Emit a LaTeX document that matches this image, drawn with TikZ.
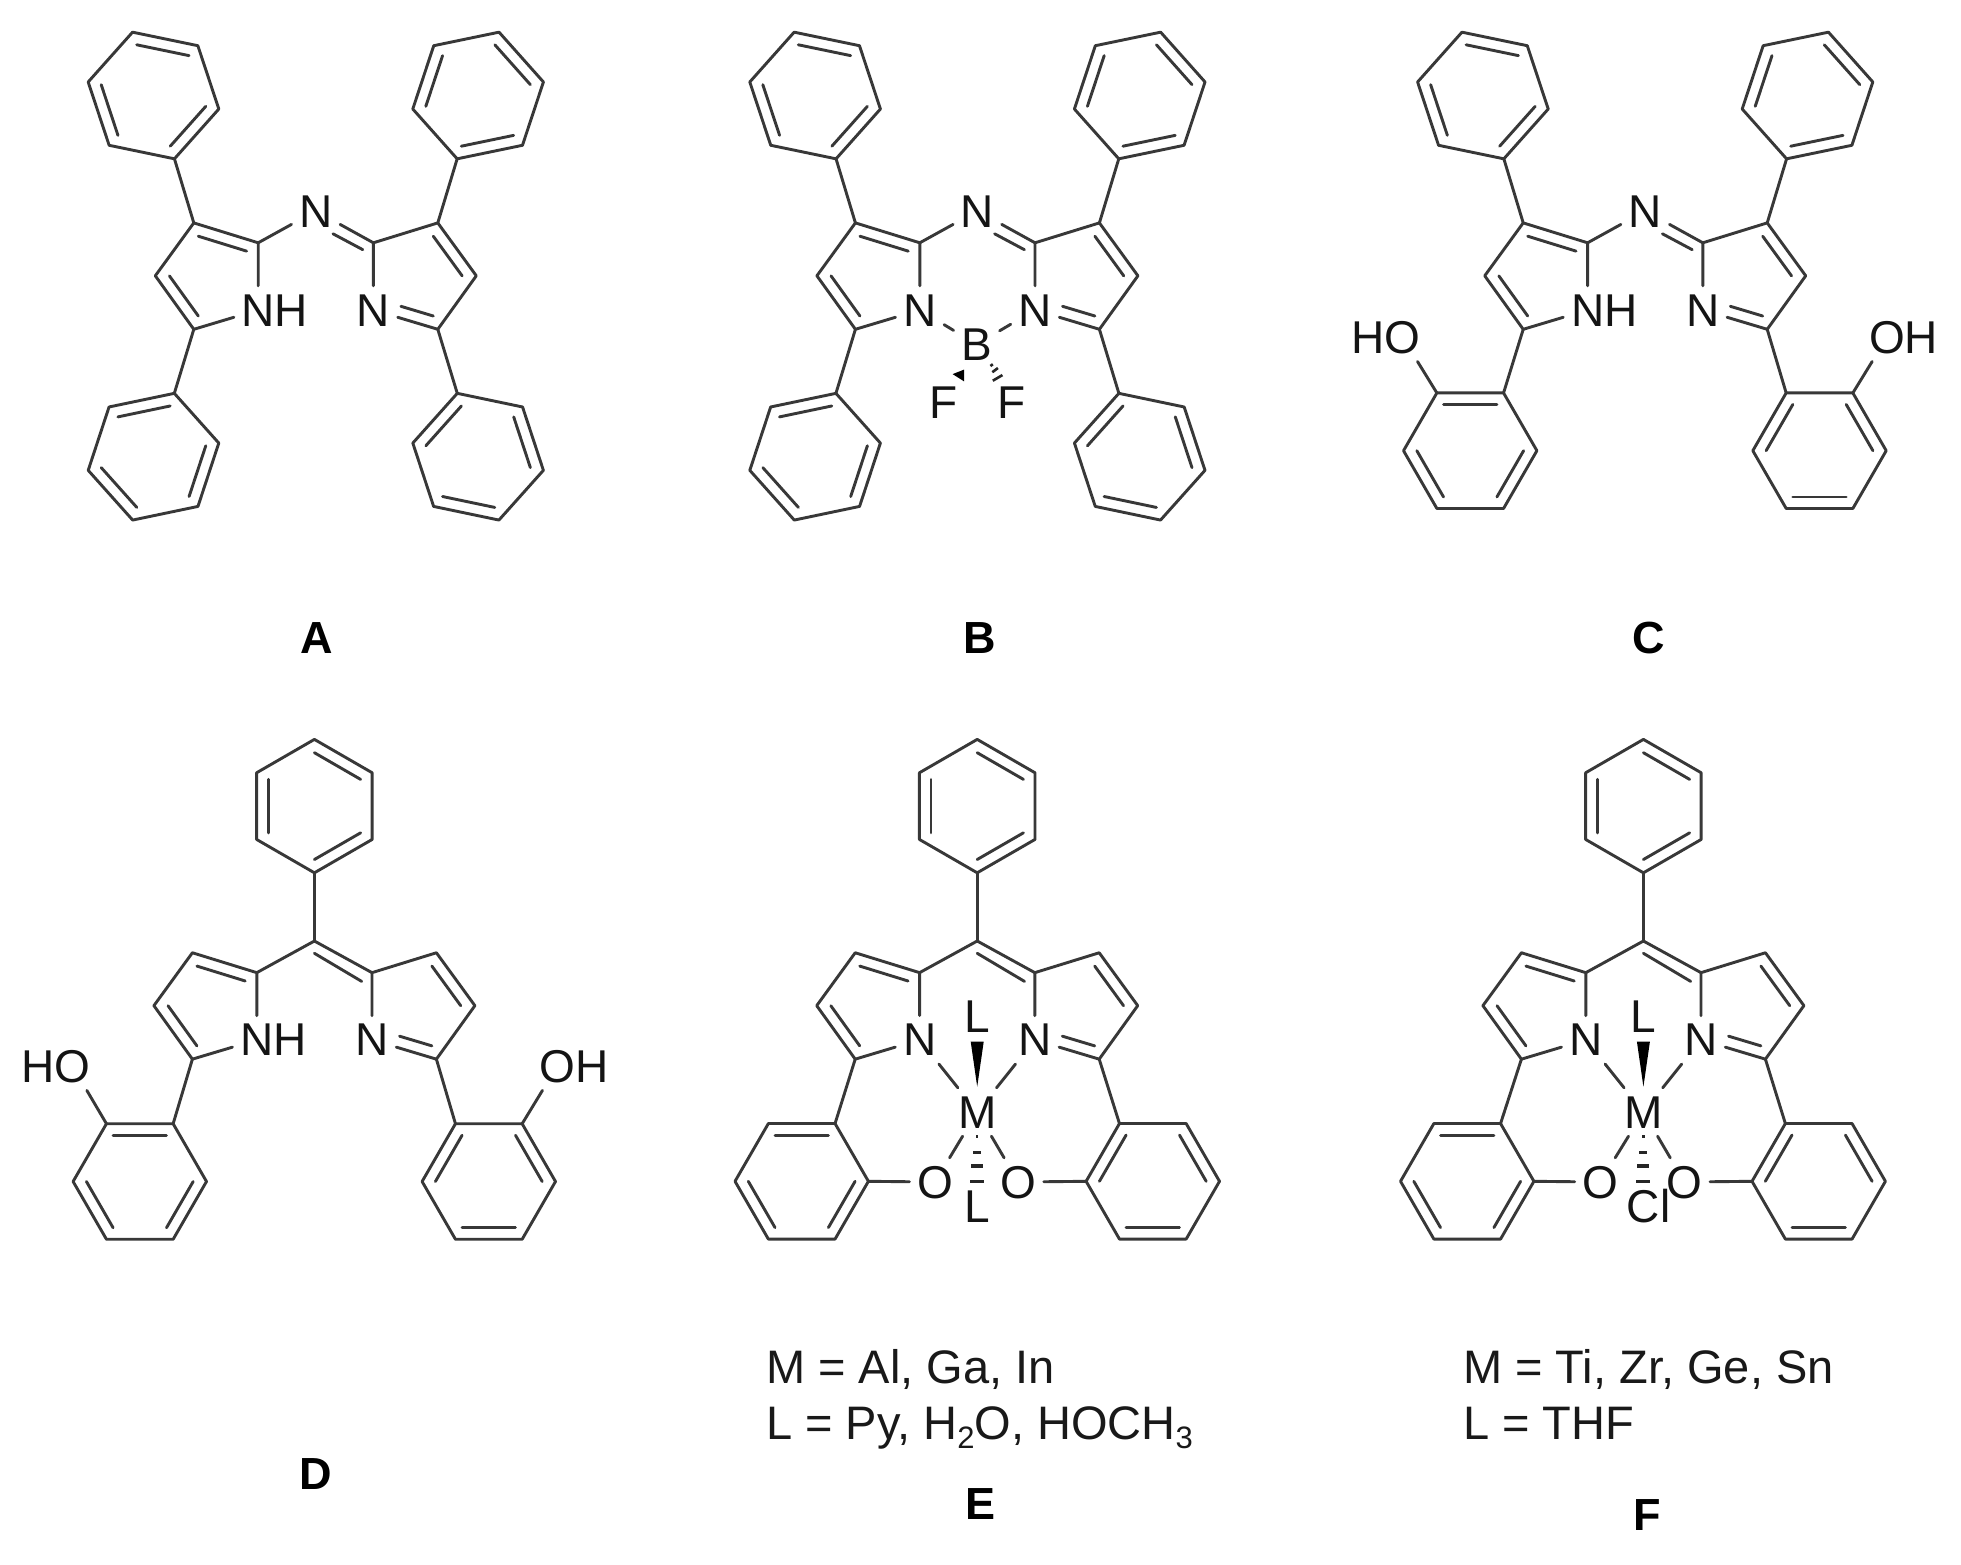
\documentclass[tikz,border=0pt]{standalone}
\usepackage{fontspec}
\setmainfont{Liberation Sans}
\usetikzlibrary{calc}
\tikzset{
  bond/.style={draw=black!78,line width=2.9pt,line cap=round,line join=round},
  atom/.style={inner xsep=7.5pt,inner ysep=8pt,text height=32pt,text depth=0pt,text=black!92,font=\fontsize{46}{54}\selectfont},
  lab/.style={inner sep=0pt,text height=32pt,text depth=0pt,font=\fontsize{45}{54}\selectfont\bfseries},
  note/.style={inner sep=0pt,anchor=base west,text=black!90,font=\fontsize{47}{54}\selectfont},
  solidwedge/.style={fill=black,draw=none},
  hash/.style={draw=black!85,line width=3.4pt}
}
\newcommand{\sbs}[1]{\raisebox{-9pt}{\fontsize{31}{31}\selectfont #1}}
% name, cx, cy, rotation of the ipso vertex
\newcommand{\phenyl}[4]{%
  \begin{scope}[shift={(#2,#3)}]
    \foreach \k in {0,...,5} {\coordinate (#1-\k) at ({#4+60*\k}:66.7);}
    \draw[bond] (#1-0) -- (#1-1) -- (#1-2) -- (#1-3) -- (#1-4) -- (#1-5) -- cycle;
    \foreach \k in {1,3,5} {\draw[bond] ({#4+60*\k}:53.4) -- ({#4+60*\k+60}:53.4);}
  \end{scope}}
\newcommand{\dbl}[3]{\draw[bond] ($(#1)!.25!(#3)$) -- ($(#2)!.25!(#3)$);}
% prefix, cx, y0, text of the left N
\newcommand{\core}[4]{%
  \coordinate (#1-C2L) at ({#2-57.6},{#3+242.8});
  \coordinate (#1-C3L) at ({#2-122},{#3+222.9});
  \coordinate (#1-C4L) at ({#2-160.5},{#3+275.8});
  \coordinate (#1-C5L) at ({#2-122},{#3+329.3});
  \coordinate (#1-C2R) at ({#2+57.6},{#3+242.8});
  \coordinate (#1-C3R) at ({#2+122},{#3+222.9});
  \coordinate (#1-C4R) at ({#2+160.5},{#3+275.8});
  \coordinate (#1-C5R) at ({#2+122},{#3+329.3});
  \node[atom] (#1-NL) at ({#2-57.6},{#3+310}) {#4};
  \node[atom] (#1-NR) at ({#2+57.6},{#3+310}) {N};
  \coordinate (#1-cL) at (barycentric cs:#1-C2L=1,#1-C3L=1,#1-C4L=1,#1-C5L=1,#1-NL=1);
  \coordinate (#1-cR) at (barycentric cs:#1-C2R=1,#1-C3R=1,#1-C4R=1,#1-C5R=1,#1-NR=1);
  \draw[bond] (#1-NL) -- (#1-C2L) -- (#1-C3L) -- (#1-C4L) -- (#1-C5L) -- (#1-NL);
  \draw[bond] (#1-NR) -- (#1-C2R) -- (#1-C3R) -- (#1-C4R) -- (#1-C5R) -- (#1-NR);
  \dbl{#1-C2L}{#1-C3L}{#1-cL}
  \dbl{#1-C4L}{#1-C5L}{#1-cL}
  \dbl{#1-C3R}{#1-C4R}{#1-cR}
  \coordinate (#1-i5) at ($(#1-C5R)!.25!(#1-cR)$);
  \coordinate (#1-iN) at ($(#1-NR)!.25!(#1-cR)$);
  \draw[bond] (#1-i5) -- ($(#1-i5)!.67!(#1-iN)$);
}
% aza bridge: prefix, cx
\newcommand{\azabridge}[2]{%
  \node[atom] (#1-X) at (#2,211) {N};
  \draw[bond] (#1-C2L) -- (#1-X);
  \draw[bond] (#1-C2R) -- (#1-X);
  \draw[bond] ({#2+17.2},233.8) -- ({#2+47},249.7);
}
% meso carbon with its phenyl: prefix, cx
\newcommand{\mesobridge}[2]{%
  \coordinate (#1-X) at (#2,941);
  \phenyl{#1-P}{#2}{806.1}{90}
  \draw[bond] (#1-P-0) -- (#1-X);
  \draw[bond] (#1-C2L) -- (#1-X) -- (#1-C2R);
  \draw[bond] (#2,953.3) -- ({#2+47.3},981.4);
}
\newcommand{\topphenyls}[2]{%
  \phenyl{#1-TL}{#2-162.3}{95.5}{71.7}
  \phenyl{#1-TR}{#2+162.3}{95.5}{108.3}
  \draw[bond] (#1-C3L) -- (#1-TL-0);
  \draw[bond] (#1-C3R) -- (#1-TR-0);
}
\newcommand{\botphenyls}[2]{%
  \phenyl{#1-BL}{#2-162.3}{456.7}{288.2}
  \phenyl{#1-BR}{#2+162.3}{456.7}{251.8}
  \draw[bond] (#1-C5L) -- (#1-BL-0);
  \draw[bond] (#1-C5R) -- (#1-BR-0);
}
% metal centre: prefix, cx, left O x, right O x, bottom ligand text
\newcommand{\metal}[5]{%
  \node[atom] (#1-Lt) at (#2,1016.7) {L};
  \node[atom] (#1-M) at (#2,1112) {M};
  \node[atom] (#1-OL) at (#3,1182) {O};
  \node[atom] (#1-OR) at (#4,1182) {O};
  \node[atom] (#1-Lb) at (#2,1206.5) {#5};
  \draw[bond] (#1-NL) -- (#1-M);
  \draw[bond] (#1-NR) -- (#1-M);
  \draw[bond] (#1-OL) -- (#1-M);
  \draw[bond] (#1-OR) -- (#1-M);
  \fill[solidwedge] ({#2-6.5},1041.7) -- ({#2+6.5},1041.7) -- (#2,1086.7) -- cycle;
  \draw[hash] ({#2-1.2},1136.7) -- ({#2+1.2},1136.7);
  \draw[hash] ({#2-4},1152.3) -- ({#2+4},1152.3);
  \draw[hash] ({#2-6},1166) -- ({#2+6},1166);
  \draw[hash] ({#2-7},1181.5) -- ({#2+7},1181.5);
}
\begin{document}
\begin{tikzpicture}[x=1pt,y=-1pt]
\useasboundingbox (0,0) rectangle (1961,1565);
\fill[white] (0,0) rectangle (1961,1565);

% ---------- A
\core{A}{315.8}{0}{N\rlap{H}}
\azabridge{A}{315.8}
\topphenyls{A}{315.8}
\botphenyls{A}{315.8}
\node[lab] (labA) at (317,637) {A};

% ---------- B
\core{B}{977.4}{0}{N}
\azabridge{B}{977.4}
\topphenyls{B}{977.4}
\botphenyls{B}{977.4}
\node[atom] (B-B) at (976.6,344.3) {B};
\node[atom] (B-F1) at (943.8,402) {F};
\node[atom] (B-F2) at (1012,402) {F};
\draw[bond] (B-NL) -- (B-B);
\draw[bond] (B-NR) -- (B-B);
\fill[solidwedge] (964.1,369.6) -- (964.1,381.4) -- (952.6,374.1) -- cycle;
\draw[hash,line width=2.6pt] (990.4,366) -- (992.8,364.2);
\draw[hash,line width=2.6pt] (992.3,372.2) -- (997.9,368);
\draw[hash,line width=2.6pt] (992.8,380.7) -- (1002.4,375.1);
\node[lab] (labB) at (980,637) {B};

% ---------- C
\core{C}{1645.2}{0}{N\rlap{H}}
\azabridge{C}{1645.2}
\topphenyls{C}{1645.2}
\phenyl{C-BL}{1470.2}{450.7}{300}
\phenyl{C-BR}{1819.5}{450.7}{240}
\draw[bond] (C-C5L) -- (C-BL-0);
\draw[bond] (C-C5R) -- (C-BR-0);
\node[atom] (C-OL) at (1402.6,337.3) {\llap{H}O};
\node[atom] (C-OR) at (1887,337.3) {O\rlap{H}};
\draw[bond] (C-BL-5) -- (C-OL);
\draw[bond] (C-BR-1) -- (C-OR);
\node[lab] (labC) at (1649,637) {C};

% ---------- D
\core{D}{314.4}{729.85}{N\rlap{H}}
\mesobridge{D}{314.4}
\phenyl{D-BL}{139.8}{1181.5}{300}
\phenyl{D-BR}{488.8}{1181.5}{240}
\draw[bond] (D-C5L) -- (D-BL-0);
\draw[bond] (D-C5R) -- (D-BR-0);
\node[atom] (D-OL) at (72.6,1066.2) {\llap{H}O};
\node[atom] (D-OR) at (557.2,1066.2) {O\rlap{H}};
\draw[bond] (D-BL-5) -- (D-OL);
\draw[bond] (D-BR-1) -- (D-OR);
\node[lab] (labD) at (316,1473) {D};

% ---------- E
\core{E}{977.2}{729.85}{N}
\mesobridge{E}{977.2}
\phenyl{E-BL}{801.7}{1181.3}{300}
\phenyl{E-BR}{1152.8}{1181.3}{240}
\draw[bond] (E-C5L) -- (E-BL-0);
\draw[bond] (E-C5R) -- (E-BR-0);
\metal{E}{977.2}{935}{1018.3}{L}
\draw[bond] (E-BL-1) -- (E-OL);
\draw[bond] (E-BR-5) -- (E-OR);
\node[note] (noteE1) at (766,1383) {M = Al, Ga, In};
\node[note] (noteE2) at (766,1439) {L = Py, H\sbs{2}O, HOCH\sbs{3}};
\node[lab] (labE) at (980,1503) {E};

% ---------- F
\core{F}{1643.4}{729.85}{N}
\mesobridge{F}{1643.4}
\phenyl{F-BL}{1467.2}{1181.3}{300}
\phenyl{F-BR}{1818.7}{1181.3}{240}
\draw[bond] (F-C5L) -- (F-BL-0);
\draw[bond] (F-C5R) -- (F-BR-0);
\metal{F}{1643.4}{1600.3}{1684.4}{C\rlap{l}}
\draw[bond] (F-BL-1) -- (F-OL);
\draw[bond] (F-BR-5) -- (F-OR);
\node[note] (noteF1) at (1463,1383) {M = Ti, Zr, Ge, Sn};
\node[note] (noteF2) at (1463,1439) {L = THF};
\node[lab] (labF) at (1647,1514) {F};
\end{tikzpicture}
\end{document}
